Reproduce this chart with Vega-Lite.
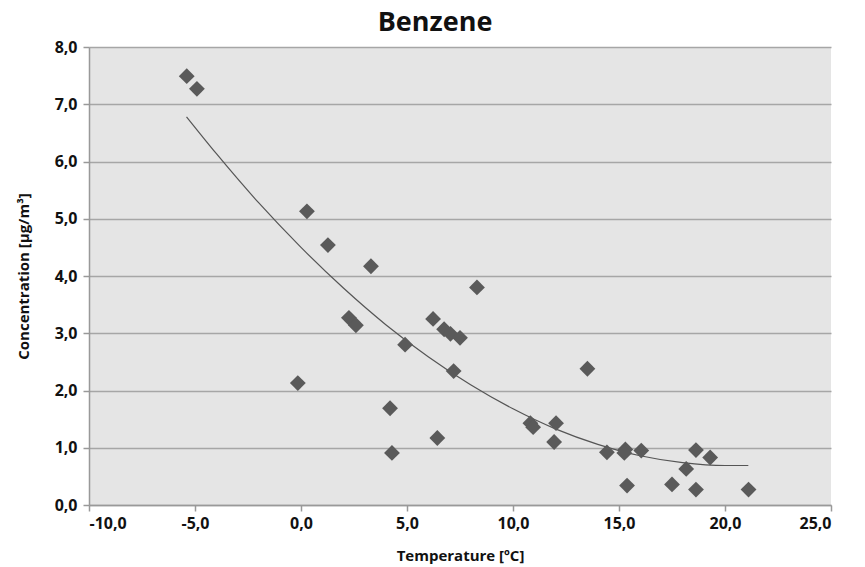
{
  "$schema": "https://vega.github.io/schema/vega-lite/v6.json",
  "width": 742,
  "height": 458,
  "autosize": {"type": "none"},
  "padding": {"left": 89, "top": 47, "right": 34, "bottom": 62},
  "background": "white",
  "config": {
    "font": "Open Sans",
    "view": {"fill": "#e5e5e5", "stroke": null}
  },
  "title": {
    "text": "Benzene",
    "fontSize": 27,
    "fontWeight": "bold",
    "font": "Open Sans",
    "color": "#111111",
    "offset": 2,
    "dx": -25
  },
  "datasets": {
    "points": [
      {"temp": -5.39, "conc": 7.49},
      {"temp": -4.91, "conc": 7.27},
      {"temp": 0.28, "conc": 5.13},
      {"temp": -0.15, "conc": 2.13},
      {"temp": 1.27, "conc": 4.54},
      {"temp": 3.30, "conc": 4.17},
      {"temp": 2.26, "conc": 3.27},
      {"temp": 2.59, "conc": 3.14},
      {"temp": 4.91, "conc": 2.80},
      {"temp": 4.20, "conc": 1.69},
      {"temp": 4.29, "conc": 0.91},
      {"temp": 6.23, "conc": 3.25},
      {"temp": 6.75, "conc": 3.07},
      {"temp": 7.05, "conc": 2.99},
      {"temp": 7.50, "conc": 2.92},
      {"temp": 7.20, "conc": 2.34},
      {"temp": 6.43, "conc": 1.17},
      {"temp": 8.30, "conc": 3.80},
      {"temp": 10.82, "conc": 1.43},
      {"temp": 10.95, "conc": 1.36},
      {"temp": 12.03, "conc": 1.43},
      {"temp": 11.94, "conc": 1.10},
      {"temp": 13.51, "conc": 2.38},
      {"temp": 14.43, "conc": 0.92},
      {"temp": 15.30, "conc": 0.97},
      {"temp": 15.25, "conc": 0.91},
      {"temp": 16.05, "conc": 0.95},
      {"temp": 15.38, "conc": 0.34},
      {"temp": 17.50, "conc": 0.36},
      {"temp": 18.17, "conc": 0.63},
      {"temp": 18.63, "conc": 0.96},
      {"temp": 19.30, "conc": 0.83},
      {"temp": 18.63, "conc": 0.27},
      {"temp": 21.11, "conc": 0.27}
    ],
    "trend": [
      {"temp": -5.4, "conc": 6.78},
      {"temp": -4.0, "conc": 6.14},
      {"temp": -2.0, "conc": 5.28},
      {"temp": 0.0, "conc": 4.50},
      {"temp": 2.0, "conc": 3.79},
      {"temp": 4.0, "conc": 3.15},
      {"temp": 6.0, "conc": 2.59},
      {"temp": 8.0, "conc": 2.10},
      {"temp": 10.0, "conc": 1.68},
      {"temp": 12.0, "conc": 1.33},
      {"temp": 14.0, "conc": 1.06},
      {"temp": 16.0, "conc": 0.86},
      {"temp": 18.0, "conc": 0.74},
      {"temp": 20.0, "conc": 0.69},
      {"temp": 21.1, "conc": 0.69}
    ]
  },
  "encoding": {
    "x": {
      "field": "temp",
      "type": "quantitative",
      "scale": {"domain": [-10, 25], "nice": false, "zero": false},
      "axis": {
        "title": "Temperature [ºC]",
        "values": [-10, -5, 0, 5, 10, 15, 20, 25],
        "labelExpr": "replace(replace(format(datum.value, '.1f'), '.', ','), '\u2212', '-')",
        "grid": false,
        "domainColor": "#999999",
        "domainWidth": 1.5,
        "tickColor": "#999999",
        "tickSize": 6,
        "tickWidth": 1.5,
        "labelFont": "Open Sans",
        "labelFontSize": 16,
        "labelFontWeight": "bold",
        "labelColor": "#111111",
        "labelPadding": 4,
        "titleFont": "Open Sans",
        "titleFontSize": 15,
        "titleFontWeight": "bold",
        "titleColor": "#111111",
        "titlePadding": 17
      }
    },
    "y": {
      "field": "conc",
      "type": "quantitative",
      "scale": {"domain": [0, 8], "nice": false},
      "axis": {
        "title": "Concentration [µg/m³]",
        "values": [0, 1, 2, 3, 4, 5, 6, 7, 8],
        "labelExpr": "replace(format(datum.value, '.1f'), '.', ',')",
        "grid": true,
        "gridColor": "#a6a6a6",
        "gridWidth": 1.5,
        "domainColor": "#999999",
        "domainWidth": 1.5,
        "tickColor": "#999999",
        "tickSize": 6,
        "tickWidth": 1.5,
        "labelFont": "Open Sans",
        "labelFontSize": 16,
        "labelFontWeight": "bold",
        "labelColor": "#111111",
        "labelPadding": 6,
        "titleFont": "Open Sans",
        "titleFontSize": 15,
        "titleFontWeight": "bold",
        "titleColor": "#111111",
        "titlePadding": 23
      }
    }
  },
  "layer": [
    {
      "data": {"name": "trend"},
      "mark": {"type": "line", "color": "#555555", "strokeWidth": 1.2, "interpolate": "monotone"}
    },
    {
      "data": {"name": "points"},
      "mark": {"type": "point", "shape": "diamond", "filled": true, "size": 250, "color": "#5a5a5a", "opacity": 1}
    }
  ]
}
